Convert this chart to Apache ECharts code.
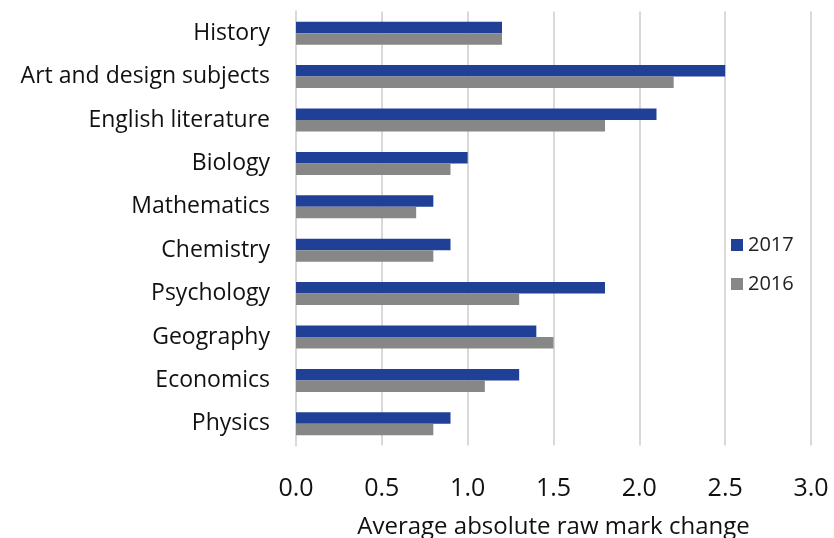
<!DOCTYPE html>
<html>
<head>
<meta charset="utf-8">
<script src="https://cdn.jsdelivr.net/npm/echarts@6/dist/echarts.min.js"></script>
<style>
  html, body { margin: 0; padding: 0; background: #fff; }
  #chart { width: 834px; height: 538px; }
</style>
</head>
<body>
<div id="chart"></div>
<script>
// subjects, top to bottom
var subjects = ["History", "Art and design subjects", "English literature", "Biology",
  "Mathematics", "Chemistry", "Psychology", "Geography", "Economics", "Physics"];
var values2017 = [1.2, 2.5, 2.1, 1.0, 0.8, 0.9, 1.8, 1.4, 1.3, 0.9];
var values2016 = [1.2, 2.2, 1.8, 0.9, 0.7, 0.8, 1.3, 1.5, 1.1, 0.8];
var xTicks = [0, 0.5, 1, 1.5, 2, 2.5, 3];

var font = "Open Sans";
var chart = echarts.init(document.getElementById("chart"));
chart.setOption({
  animation: false,
  textStyle: { fontFamily: font },
  // keep the plot fixed, the axis title is allowed to run off the bottom like the original
  grid: { left: 296, right: 23, top: 11.5, height: 434, outerBoundsMode: "none", containLabel: false },
  legend: {
    orient: "vertical",
    left: 726,
    top: 230,
    itemWidth: 12,
    itemHeight: 12,
    itemGap: 19,
    icon: "rect",
    textStyle: { fontSize: 20, color: "#222", fontFamily: font },
    data: ["2017", "2016"]
  },
  xAxis: {
    type: "value",
    min: xTicks[0],
    max: xTicks[xTicks.length - 1],
    interval: 0.5,
    axisLine: { show: false },
    axisTick: { show: false },
    axisLabel: {
      margin: 31,
      fontSize: 25,
      color: "#111",
      fontFamily: font,
      formatter: function (v) { return v.toFixed(1); }
    },
    splitLine: { lineStyle: { color: "#d9d9d9", width: 2 } },
    name: "Average absolute raw mark change",
    nameLocation: "middle",
    nameGap: 70,
    nameTextStyle: { fontSize: 24, color: "#111", fontFamily: font, verticalAlign: "top" }
  },
  yAxis: {
    type: "category",
    inverse: true,
    data: subjects,
    axisLine: { lineStyle: { color: "#d9d9d9", width: 2 } },
    axisTick: { show: false },
    axisLabel: { margin: 26, fontSize: 23, color: "#111", fontFamily: font }
  },
  series: [
    {
      name: "2017",
      type: "bar",
      data: values2017,
      itemStyle: { color: "#203f96" },
      barWidth: 11.5,
      barGap: "0%"
    },
    {
      name: "2016",
      type: "bar",
      data: values2016,
      itemStyle: { color: "#878787" },
      barWidth: 11.5,
      barGap: "0%"
    }
  ]
});
</script>
</body>
</html>
